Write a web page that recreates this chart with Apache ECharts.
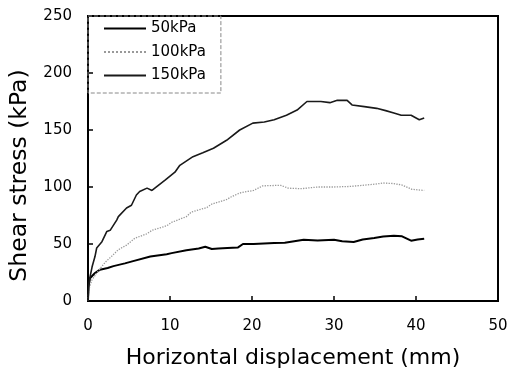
<!DOCTYPE html>
<html>
<head>
<meta charset="utf-8">
<script src="https://cdn.jsdelivr.net/npm/echarts@6/dist/echarts.min.js"></script>
<style>
  html, body { margin: 0; padding: 0; background: #fff; }
  #chart { width: 508px; height: 376px; }
</style>
</head>
<body>
<div id="chart"></div>
<script>
  var seriesNames = ['50kPa', '100kPa', '150kPa']

  var disp50 = [0, 0.05, 0.24, 0.85, 1.46, 2.4, 3.1, 4.5, 5.5, 5.7, 7.6, 7.8, 9.6, 10.2, 12, 12.2, 13.5, 14.3, 15.1, 15.9, 17, 18.3, 18.9, 20.2, 22.7, 24, 26.3, 28, 30, 31, 32.4, 33.5, 34.9, 36, 37.3, 38.3, 39.4, 40.2, 41]
  var stress50 = [0, 12, 20, 24.5, 27.5, 29, 30.6, 33, 35, 36, 39, 39.5, 41, 42, 44.5, 45.6, 46, 47.6, 45.6, 46, 46.5, 47, 50, 50, 50.8, 51, 53.8, 53, 53.8, 52.5, 51.8, 54, 55.3, 56.5, 57.3, 56.7, 52.9, 54, 54.7]

  var disp100 = [0, 0.1, 0.45, 1, 2.1, 3, 3.7, 4.7, 5.7, 7.2, 7.8, 9.6, 10.2, 12, 12.6, 14.5, 15.1, 16.9, 17.5, 18.5, 19.4, 20.2, 21.3, 23.5, 24.4, 26, 28, 30, 32, 33.8, 35, 36, 37.3, 38.3, 39.5, 40.2, 41]
  var stress100 = [0, 10, 18, 24, 34, 40, 45, 49, 55, 59, 62, 66, 69, 74, 78, 82, 85, 89, 91.5, 94.7, 96, 97, 101, 101.5, 99, 98.5, 100, 100, 100.5, 101.7, 102.5, 103.5, 103, 101.7, 98, 97.5, 97]

  var disp150 = [0, 0.1, 0.24, 0.5, 0.85, 1.06, 1.7, 2.3, 2.7, 3.5, 3.7, 4.7, 5.3, 5.9, 6.3, 7.2, 7.8, 8.5, 9.4, 10.6, 11.2, 12.8, 14, 15.3, 16.9, 18.5, 20.1, 21.5, 22.7, 24.2, 25.5, 26.7, 28.4, 29.5, 30.4, 31.6, 32.2, 33.7, 35.2, 36.3, 37.3, 38.2, 39.4, 40.4, 41]
  var stress150 = [0, 14, 21, 30, 39, 46.5, 52, 61, 62, 71, 74, 81.6, 84, 93, 96, 99, 97, 101, 106, 113, 119, 126.6, 130, 134, 141, 150, 156, 157, 159, 163, 167.5, 175, 175, 174, 176, 176, 172, 170.5, 169, 167, 165, 163, 163, 159, 160.5]

  var xMax = 50
  var yMax = 250

  function pairs(xs, ys) {
    return xs.map(function (x, i) { return [x, ys[i]] })
  }

  var font = 'DejaVu Sans'
  var chart = echarts.init(document.getElementById('chart'))
  chart.setOption({
    animation: false,
    backgroundColor: '#fff',
    grid: {
      left: 88,
      right: 10,
      top: 16,
      bottom: 75,
      outerBoundsMode: 'none',
      show: true,
      borderColor: '#000',
      borderWidth: 2
    },
    legend: {
      data: seriesNames,
      orient: 'vertical',
      left: 88,
      top: 16,
      padding: [5, 15, 10, 15],
      itemWidth: 42,
      itemHeight: 14,
      itemGap: 8.5,
      itemStyle: { opacity: 0 },
      borderColor: '#888',
      borderWidth: 1,
      borderType: 'dashed',
      textStyle: { fontFamily: font, fontSize: 15, color: '#000' }
    },
    xAxis: {
      type: 'value',
      min: 0,
      max: xMax,
      interval: 10,
      name: 'Horizontal displacement (mm)',
      nameLocation: 'middle',
      nameGap: 46,
      nameTextStyle: { fontFamily: font, fontSize: 22, color: '#000' },
      axisLine: { lineStyle: { color: '#000', width: 2 } },
      axisTick: { inside: true, length: 5, lineStyle: { color: '#000', width: 1.5 } },
      axisLabel: { margin: 18, fontFamily: font, fontSize: 15, color: '#000' },
      splitLine: { show: false }
    },
    yAxis: {
      type: 'value',
      min: 0,
      max: yMax,
      interval: 50,
      axisLine: { lineStyle: { color: '#000', width: 2 } },
      axisTick: { inside: true, length: 5, lineStyle: { color: '#000', width: 1.5 } },
      axisLabel: { margin: 16, fontFamily: font, fontSize: 15, color: '#000' },
      splitLine: { show: false }
    },
    series: [
      {
        name: seriesNames[0],
        type: 'line',
        symbol: 'none',
        data: pairs(disp50, stress50),
        lineStyle: { color: '#000', width: 2 },
        itemStyle: { color: '#000' }
      },
      {
        name: seriesNames[1],
        type: 'line',
        symbol: 'none',
        data: pairs(disp100, stress100),
        lineStyle: { color: '#999', width: 1.3, type: 'dotted' },
        itemStyle: { color: '#999' }
      },
      {
        name: seriesNames[2],
        type: 'line',
        symbol: 'none',
        data: pairs(disp150, stress150),
        lineStyle: { color: '#1a1a1a', width: 1.6 },
        itemStyle: { color: '#1a1a1a' }
      }
    ]
  })

  // y title sits a little below the axis middle, as in the source figure
  var p0 = chart.convertToPixel({ gridIndex: 0 }, [0, 0])
  var p1 = chart.convertToPixel({ gridIndex: 0 }, [xMax, yMax])
  chart.setOption({
    graphic: [
      {
        type: 'text',
        silent: true,
        x: 20,
        y: (p0[1] + p1[1]) / 2 + 17,
        rotation: Math.PI / 2,
        style: {
          text: 'Shear stress (kPa)',
          fontFamily: font,
          fontSize: 23.5,
          fill: '#000',
          align: 'center',
          verticalAlign: 'middle'
        }
      }
    ]
  })
</script>
</body>
</html>
